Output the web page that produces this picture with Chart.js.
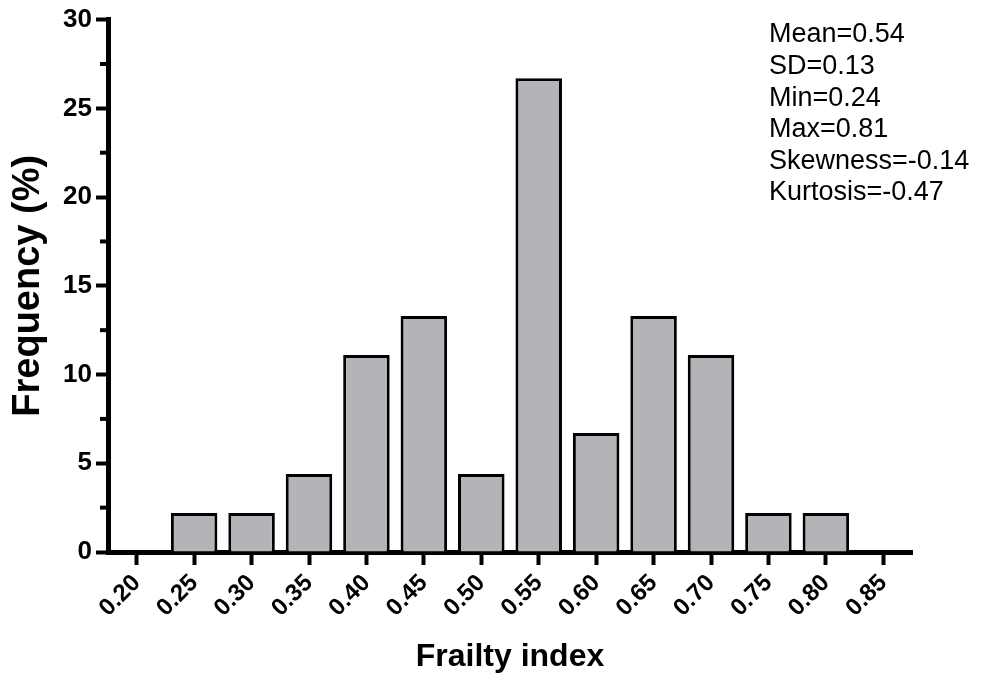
<!DOCTYPE html>
<html>
<head>
<meta charset="utf-8">
<script src="https://cdn.jsdelivr.net/npm/chart.js@4.4.7/dist/chart.umd.min.js"></script>
<style>
  html, body { margin: 0; padding: 0; background: #fff; }
  #wrap { width: 993px; height: 676px; }
</style>
</head>
<body>
<div id="wrap"><canvas id="c"></canvas></div>
<script>
const frailtyBins = ['0.20', '0.25', '0.30', '0.35', '0.40', '0.45', '0.50', '0.55', '0.60', '0.65', '0.70', '0.75', '0.80', '0.85'];
const frequency = [0, 2.2, 2.2, 4.4, 11.1, 13.3, 4.4, 26.7, 6.7, 13.3, 11.1, 2.2, 2.2, 0];
const yMinorTicks = [2.5, 7.5, 12.5, 17.5, 22.5, 27.5];
const statsLines = ['Mean=0.54', 'SD=0.13', 'Min=0.24', 'Max=0.81', 'Skewness=-0.14', 'Kurtosis=-0.47'];

const fontFamily = 'Arial, "Liberation Sans", Helvetica, sans-serif';

// minor y ticks + stats box
const extras = {
  id: 'extras',
  afterDraw(chart) {
    const ctx = chart.ctx;
    const y = chart.scales.y;
    const left = chart.chartArea.left;
    ctx.save();
    ctx.strokeStyle = '#000';
    ctx.lineWidth = 4;
    yMinorTicks.forEach(v => {
      const py = y.getPixelForValue(v);
      ctx.beginPath();
      ctx.moveTo(left - 8, py);
      ctx.lineTo(left, py);
      ctx.stroke();
    });
    ctx.fillStyle = '#000';
    ctx.font = '27px ' + fontFamily;
    ctx.textBaseline = 'middle';
    ctx.textAlign = 'left';
    statsLines.forEach((t, i) => {
      ctx.fillText(t, 769, 35 + i * 31.6);
    });
    ctx.restore();
  }
};

new Chart(document.getElementById('c'), {
  type: 'bar',
  data: {
    labels: frailtyBins,
    datasets: [{
      data: frequency,
      backgroundColor: '#b4b4b8',
      borderColor: '#000',
      borderWidth: 3,
      barPercentage: 0.81,
      categoryPercentage: 1.0
    }]
  },
  options: {
    responsive: true,
    maintainAspectRatio: false,
    animation: false,
    layout: { padding: { left: 0, top: 18, right: 81, bottom: 0 } },
    plugins: { legend: { display: false }, tooltip: { enabled: false } },
    scales: {
      x: {
        offset: true,
        grid: { display: true, drawOnChartArea: false, offset: false, tickLength: 13, tickWidth: 4, tickColor: '#000' },
        border: { display: true, color: '#000', width: 5 },
        ticks: {
          minRotation: 45, maxRotation: 45, padding: 4,
          color: '#000', font: { family: fontFamily, size: 24, weight: 'bold' }
        },
        title: {
          display: true, text: 'Frailty index', color: '#000',
          font: { family: fontFamily, size: 32, weight: 'bold' },
          padding: { top: 0, bottom: 0 }
        },
        afterFit(scale) { scale.height = 124; }
      },
      y: {
        min: 0, max: 30,
        ticks: {
          stepSize: 5, padding: 4, color: '#000',
          font: { family: fontFamily, size: 26, weight: 'bold' }
        },
        grid: { display: true, drawOnChartArea: false, tickLength: 12, tickWidth: 4, tickColor: '#000' },
        border: { display: true, color: '#000', width: 5 },
        title: {
          display: true, text: 'Frequency (%)', color: '#000',
          font: { family: fontFamily, size: 38, weight: 'bold' },
          padding: { top: 6, bottom: 0 }
        },
        afterFit(scale) { scale.width = 108; }
      }
    }
  },
  plugins: [extras]
});
</script>
</body>
</html>
